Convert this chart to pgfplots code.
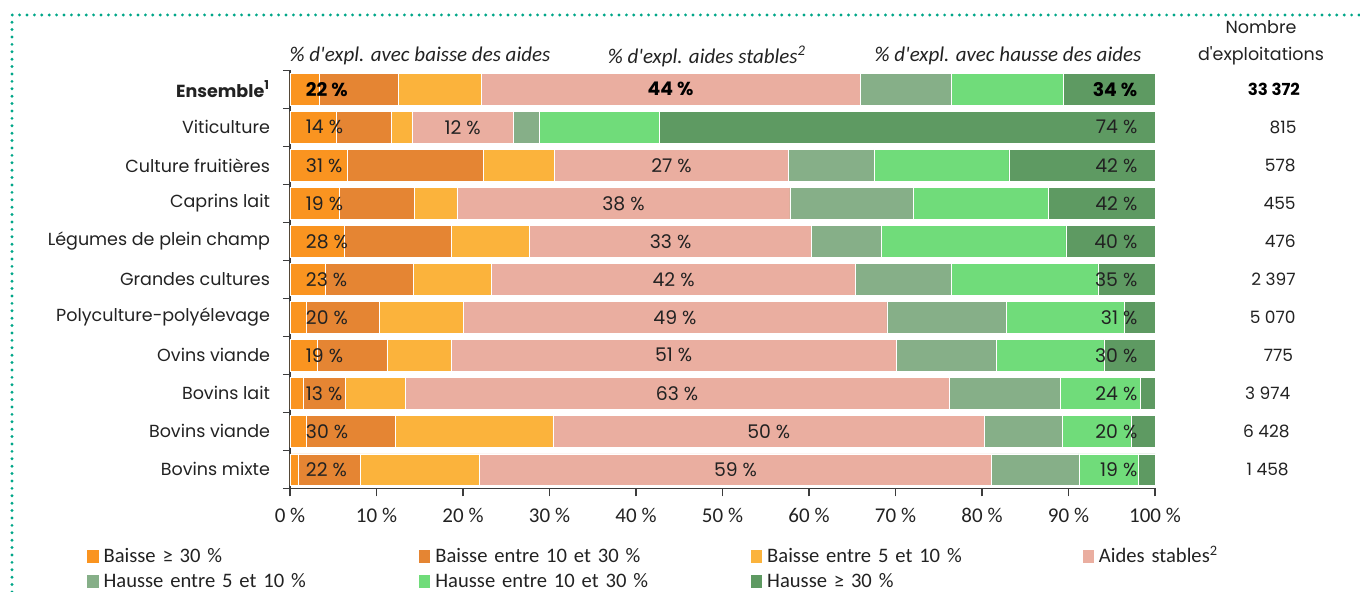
\documentclass[border=0pt]{standalone}
\usepackage{fontspec}
\setmainfont{Poppins}
\newfontfamily\calfont{Carlito}
\usepackage{pgfplots}
\pgfplotsset{compat=1.18}
\usepackage{pgfplotstable}

\definecolor{cA}{RGB}{250,148,32}
\definecolor{cB}{RGB}{229,133,51}
\definecolor{cC}{RGB}{251,179,60}
\definecolor{cD}{RGB}{234,174,160}
\definecolor{cE}{RGB}{134,175,136}
\definecolor{cF}{RGB}{112,220,122}
\definecolor{cG}{RGB}{94,154,98}
\definecolor{txt}{RGB}{34,34,34}
\definecolor{axgray}{RGB}{60,60,60}
\definecolor{dotteal}{RGB}{0,166,136}

\pgfplotstableread{
y a b c d e f g
0 3.4 9.1 9.6 43.8 10.6 12.9 10.6
1 5.3 6.4 2.4 11.7 3.0 13.9 57.3
2 6.6 15.8 8.2 27.0 9.9 15.6 16.9
3 5.7 8.7 4.9 38.5 14.3 15.6 12.3
4 6.3 12.4 9.0 32.6 8.1 21.3 10.3
5 4.1 10.2 9.0 42.1 11.0 17.0 6.6
6 1.9 8.4 9.7 49.0 13.8 13.7 3.5
7 3.2 8.0 7.4 51.5 11.6 12.4 5.9
8 1.5 4.9 6.9 62.9 12.9 9.2 1.7
9 1.9 10.3 18.2 49.9 9.0 8.0 2.7
10 1.0 7.1 13.8 59.2 10.1 6.9 1.9
}\data

\pgfplotsset{
  sq/.style={legend image code/.code={\path[##1,draw=none] (0pt,-3.1pt) rectangle (5.6pt,3.3pt);}},
}
\tikzset{
  lbl/.style={font=\fontsize{9.4}{10}\selectfont, text=txt, inner sep=0pt},
  blbl/.style={font=\bfseries\fontsize{9.4}{10}\selectfont, text=black, inner sep=0pt},
  num/.style={font=\fontsize{8.5}{10}\selectfont, text=txt, inner sep=0pt},
  bnum/.style={font=\bfseries\fontsize{8.3}{10}\selectfont, text=black, inner sep=0pt},
  hdr/.style={font=\calfont\itshape\fontsize{10.5}{12}\selectfont, text=txt},
}

\begin{document}
\begin{tikzpicture}
\useasboundingbox (0pt,0pt) rectangle (680pt,-296pt);
% dotted frame
\draw[dotteal, line width=1.6pt, line cap=round, dash pattern=on 0pt off 3.7pt] (6pt,-296pt) -- (6pt,-7.5pt) -- (680pt,-7.5pt);
% column headers
\node[hdr] at (210pt,-28pt) {\% d\textquotesingle expl. avec baisse des aides};
\node[hdr] at (353.5pt,-28pt) {\% d\textquotesingle expl. aides stables\textsuperscript{2}};
\node[hdr] at (504pt,-28pt) {\% d\textquotesingle expl. avec hausse des aides};
\node[font=\fontsize{8.75}{13.5}\selectfont, text=txt, align=center] at (630.5pt,-21.5pt) {Nombre\\d\textquotesingle exploitations};

\begin{axis}[
  at={(145pt,-244.15pt)}, anchor=south west,
  scale only axis, width=432.5pt, height=209pt,
  xbar stacked, reverse stacked plots=false, bar width=0.816,
  xmin=0, xmax=100, ymin=-0.5, ymax=10.5, y dir=reverse,
  axis x line*=bottom, axis y line*=left,
  axis line style={color=axgray, line width=0.6pt},
  xtick={0,10,...,100},
  xticklabel={\pgfmathprintnumber{\tick}\ \%},
  /pgf/number format/assume math mode=true,
  x tick label style={font=\calfont\fontsize{10.5}{12}\selectfont, text=txt, yshift=-2.5pt},
  ytick={0,...,10},
  yticklabels={\textbf{Ensemble\textsuperscript{1}},Viticulture,Culture fruitières,Caprins lait,Légumes de plein champ,Grandes cultures,Polyculture-polyélevage,Ovins viande,Bovins lait,Bovins viande,Bovins mixte},
  y tick label style={font=\fontsize{8.75}{10}\selectfont, text=txt, xshift=-2.5pt},
  minor ytick={-0.5,0.5,...,10.5},
  major y tick style={draw=none},
  tick align=outside, major tick length=4pt, minor tick length=3.5pt,
  tick style={color=axgray, line width=0.6pt},
  clip=false,
  legend columns=4,
  legend cell align=left,
  legend style={at={(-0.2347,-0.1330)}, anchor=north west, draw=none, fill=none, inner sep=0pt,
    font=\calfont\fontsize{10.3}{12}\selectfont, text=txt,
    nodes={text width=155.3pt, inner xsep=2.5pt, text height=7.5pt, text depth=2pt, inner ysep=1.5pt},
    row sep=0pt, column sep=0pt},
]
\addplot[fill=cA, draw=white, line width=0.3pt, sq] table[x=a, y=y] {\data};
\addlegendentry{Baisse ≥ 30 \%}
\addplot[fill=cB, draw=white, line width=0.3pt, sq] table[x=b, y=y] {\data};
\addlegendentry{Baisse entre 10 et 30 \%}
\addplot[fill=cC, draw=white, line width=0.3pt, sq] table[x=c, y=y] {\data};
\addlegendentry{Baisse entre 5 et 10 \%}
\addplot[fill=cD, draw=white, line width=0.3pt, sq] table[x=d, y=y] {\data};
\addlegendentry{Aides stables\textsuperscript{2}}
\addplot[fill=cE, draw=white, line width=0.3pt, sq] table[x=e, y=y] {\data};
\addlegendentry{Hausse entre 5 et 10 \%}
\addplot[fill=cF, draw=white, line width=0.3pt, sq] table[x=f, y=y] {\data};
\addlegendentry{Hausse entre 10 et  30 \%}
\addplot[fill=cG, draw=white, line width=0.3pt, sq] table[x=g, y=y] {\data};
\addlegendentry{Hausse ≥ 30 \%}

% labels: Ensemble (bold)
\node[blbl, anchor=west] at (axis cs:1.8,0) {22 \%};
\node[blbl] at (axis cs:44.0,0) {44 \%};
\node[blbl, anchor=east] at (axis cs:98,0) {34 \%};
\node[bnum, anchor=east] at (axis cs:116.8,0) {33 372};
% left group
\node[lbl, anchor=west] at (axis cs:1.8,1) {14 \%};
\node[lbl, anchor=west] at (axis cs:1.8,2) {31 \%};
\node[lbl, anchor=west] at (axis cs:1.8,3) {19 \%};
\node[lbl, anchor=west] at (axis cs:1.8,4) {28 \%};
\node[lbl, anchor=west] at (axis cs:1.8,5) {23 \%};
\node[lbl, anchor=west] at (axis cs:1.8,6) {20 \%};
\node[lbl, anchor=west] at (axis cs:1.8,7) {19 \%};
\node[lbl, anchor=west] at (axis cs:1.8,8) {13 \%};
\node[lbl, anchor=west] at (axis cs:1.8,9) {30 \%};
\node[lbl, anchor=west] at (axis cs:1.8,10) {22 \%};
% stable
\node[lbl] at (axis cs:19.95,1) {12 \%};
\node[lbl] at (axis cs:44.1,2) {27 \%};
\node[lbl] at (axis cs:38.55,3) {38 \%};
\node[lbl] at (axis cs:44.0,4) {33 \%};
\node[lbl] at (axis cs:44.35,5) {42 \%};
\node[lbl] at (axis cs:44.5,6) {49 \%};
\node[lbl] at (axis cs:44.35,7) {51 \%};
\node[lbl] at (axis cs:44.75,8) {63 \%};
\node[lbl] at (axis cs:55.35,9) {50 \%};
\node[lbl] at (axis cs:51.5,10) {59 \%};
% right group
\node[lbl, anchor=east] at (axis cs:98,1) {74 \%};
\node[lbl, anchor=east] at (axis cs:98,2) {42 \%};
\node[lbl, anchor=east] at (axis cs:98,3) {42 \%};
\node[lbl, anchor=east] at (axis cs:98,4) {40 \%};
\node[lbl, anchor=east] at (axis cs:98,5) {35 \%};
\node[lbl, anchor=east] at (axis cs:98,6) {31 \%};
\node[lbl, anchor=east] at (axis cs:98,7) {30 \%};
\node[lbl, anchor=east] at (axis cs:98,8) {24 \%};
\node[lbl, anchor=east] at (axis cs:98,9) {20 \%};
\node[lbl, anchor=east] at (axis cs:98,10) {19 \%};
% number of farms
\node[num, anchor=east] at (axis cs:116.4,1) {815};
\node[num, anchor=east] at (axis cs:116.3,2) {578};
\node[num, anchor=east] at (axis cs:116.3,3) {455};
\node[num, anchor=east] at (axis cs:116.3,4) {476};
\node[num, anchor=east] at (axis cs:116.3,5) {2 397};
\node[num, anchor=east] at (axis cs:116.3,6) {5 070};
\node[num, anchor=east] at (axis cs:116.0,7) {775};
\node[num, anchor=east] at (axis cs:115.7,8) {3 974};
\node[num, anchor=east] at (axis cs:115.6,9) {6 428};
\node[num, anchor=east] at (axis cs:115.5,10) {1 458};
\end{axis}
\end{tikzpicture}
\end{document}
